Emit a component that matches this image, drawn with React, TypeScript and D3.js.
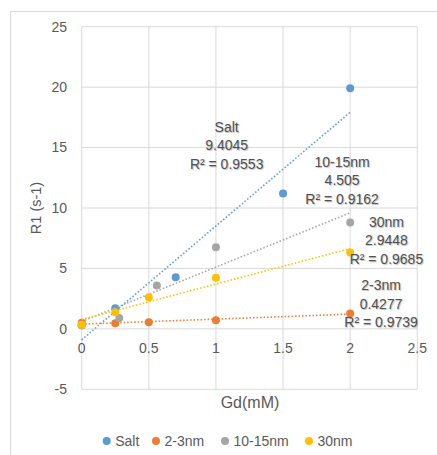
import React from "react";
import * as d3 from "d3";

const seriesNames = ["Salt", "2-3nm", "10-15nm", "30nm"];
const seriesColors = ["#5B9BD5", "#ED7D31", "#A5A5A5", "#FFC000"];
const saltX = [0, 0.25, 0.7, 1.5, 2];
const saltY = [0.3, 1.7, 4.27, 11.2, 19.9];
const smallX = [0, 0.25, 0.5, 1, 2];
const smallY = [0.5, 0.47, 0.55, 0.72, 1.28];
const midX = [0, 0.28, 0.56, 1, 2];
const midY = [0.3, 0.9, 3.58, 6.76, 8.79];
const largeX = [0, 0.25, 0.5, 1, 2];
const largeY = [0.35, 1.38, 2.62, 4.22, 6.31];
const slopeLabels = ["9.4045", "0.4277", "4.505", "2.9448"];
const r2Labels = ["R² = 0.9553", "R² = 0.9739", "R² = 0.9162", "R² = 0.9685"];
const xTicks = [0, 0.5, 1, 1.5, 2, 2.5];
const yTicks = [-5, 0, 5, 10, 15, 20, 25];

// label anchor positions (data coords) for trendline labels
const labelPos: [number, number][] = [
  [1.08, 16.7],
  [2.23, 3.58],
  [1.94, 13.8],
  [2.27, 8.82],
];

const W = 437;
const H = 455;
const L = 81.7, R = 417.3, T = 26.7, B = 389.3;

function fit(xs: number[], ys: number[]) {
  const mx = d3.mean(xs)!;
  const my = d3.mean(ys)!;
  let sxy = 0, sxx = 0;
  xs.forEach((x, i) => {
    sxy += (x - mx) * (ys[i] - my);
    sxx += (x - mx) * (x - mx);
  });
  const m = sxy / sxx;
  return { m, b: my - m * mx };
}

export default function App() {
  const x = d3.scaleLinear().domain([0, 2.5]).range([L, R]);
  const y = d3.scaleLinear().domain([-5, 25]).range([B, T]);
  const series = [
    { xs: saltX, ys: saltY },
    { xs: smallX, ys: smallY },
    { xs: midX, ys: midY },
    { xs: largeX, ys: largeY },
  ];
  const font = "'Liberation Sans', Arial, sans-serif";
  const textColor = "#595959";
  const legendX = [106.7, 156, 225, 309];

  return (
    <svg width={W} height={H} style={{ position: "absolute", left: 0, top: 0, background: "#fff" }} fontFamily={font}>
      <rect x={0} y={0} width={W} height={H} fill="#fff" />
      {/* chart border */}
      <line x1={10} x2={W} y1={11.5} y2={11.5} stroke="#d9d9d9" />
      <line x1={10.5} x2={10.5} y1={11.5} y2={H} stroke="#d9d9d9" />
      {/* gridlines */}
      {yTicks.map((t) => (
        <line key={"gy" + t} x1={L} x2={R} y1={y(t)} y2={y(t)} stroke="#d9d9d9" strokeWidth={1} />
      ))}
      {xTicks.map((t) => (
        <line key={"gx" + t} x1={x(t)} x2={x(t)} y1={T} y2={B} stroke="#d9d9d9" strokeWidth={1} />
      ))}
      {/* tick labels */}
      {yTicks.map((t) => (
        <text key={"ty" + t} x={67} y={y(t)} dy="0.35em" textAnchor="end" fontSize={14} fill={textColor}>
          {t}
        </text>
      ))}
      {xTicks.map((t) => (
        <text key={"tx" + t} x={x(t)} y={348.3} dy="0.35em" textAnchor="middle" fontSize={14} fill={textColor}>
          {t}
        </text>
      ))}
      {/* axis titles */}
      <text x={250} y={402.7} dy="0.35em" textAnchor="middle" fontSize={16} fill={textColor}>
        Gd(mM)
      </text>
      <text
        transform={`translate(36,${(T + B) / 2}) rotate(-90)`}
        dy="0.35em"
        textAnchor="middle"
        fontSize={14.5}
        fill={textColor}
      >
        R1 (s-1)
      </text>
      {/* points and trendlines */}
      {series.map((s, i) => {
        const { m, b } = fit(s.xs, s.ys);
        const x0 = d3.min(s.xs)!;
        const x1 = d3.max(s.xs)!;
        return (
          <g key={"s" + i}>
            {s.xs.map((xv, j) => (
              <circle key={j} cx={x(xv)} cy={y(s.ys[j])} r={4} fill={seriesColors[i]} />
            ))}
            <line
              x1={x(x0)}
              y1={y(m * x0 + b)}
              x2={x(x1)}
              y2={y(m * x1 + b)}
              stroke={seriesColors[i]}
              strokeWidth={1.6}
              strokeDasharray="1.5 2"
            />
          </g>
        );
      })}
      {/* trendline labels */}
      {seriesNames.map((n, i) => {
        const cx = x(labelPos[i][0]);
        const cy = y(labelPos[i][1]);
        return (
          <text
            key={"lab" + i}
            x={cx}
            y={cy}
            textAnchor="middle"
            fontSize={14}
            fill="#505050"
            style={{ textShadow: "1px 1px 1px rgba(0,0,0,0.25)" }}
          >
            {[n, slopeLabels[i], r2Labels[i]].map((t, k) => (
              <tspan key={k} x={cx} y={cy + k * 18.3} dy="0.35em">
                {t}
              </tspan>
            ))}
          </text>
        );
      })}
      {/* legend */}
      {seriesNames.map((n, i) => (
        <g key={"lg" + i}>
          <circle cx={legendX[i]} cy={441} r={4} fill={seriesColors[i]} />
          <text x={legendX[i] + 8.5} y={441} dy="0.35em" fontSize={14} fill={textColor}>
            {n}
          </text>
        </g>
      ))}
    </svg>
  );
}
